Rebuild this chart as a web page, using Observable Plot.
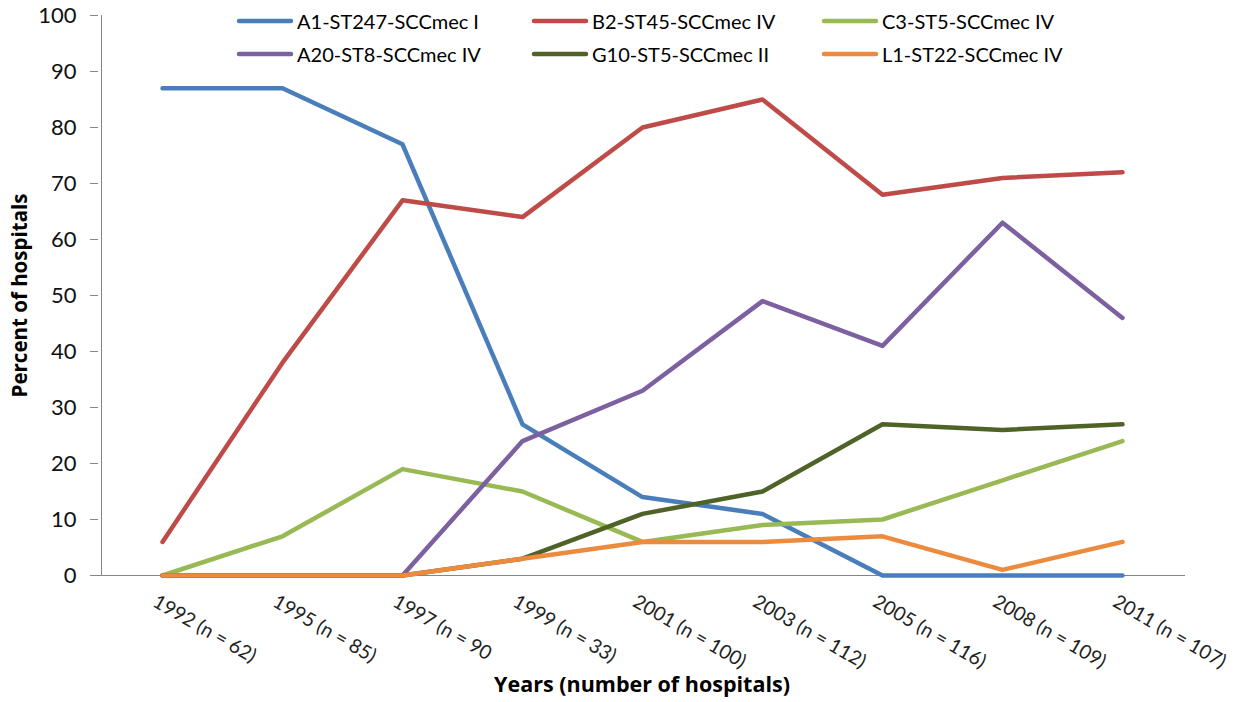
<!DOCTYPE html>
<html>
<head>
<meta charset="utf-8">
<script src="https://cdn.jsdelivr.net/npm/d3@7"></script>
<script src="https://cdn.jsdelivr.net/npm/@observablehq/plot@0.6"></script>
<style>
  html, body { margin: 0; padding: 0; background: #fff; }
  #wrap { position: relative; width: 1247px; height: 702px; font-family: Lato, "Open Sans", sans-serif; }
  #legend { position: absolute; left: 236px; top: 9px; display: grid; grid-template-columns: 295px 290px 300px; row-gap: 9px; font-size: 20px; color: #000; }
  #legend .item { display: flex; align-items: center; height: 24px; white-space: nowrap; }
  #legend svg { margin-right: 3px; }
</style>
</head>
<body>
<div id="wrap"><div id="legend"></div></div>
<script>
const categories = ["1992 (n = 62)", "1995 (n = 85)", "1997 (n = 90", "1999 (n = 33)", "2001 (n = 100)", "2003 (n = 112)", "2005 (n = 116)", "2008 (n = 109)", "2011 (n = 107)"];
const seriesNames = ["A1-ST247-SCCmec I", "B2-ST45-SCCmec IV", "C3-ST5-SCCmec IV", "A20-ST8-SCCmec IV", "G10-ST5-SCCmec II", "L1-ST22-SCCmec IV"];
const seriesColors = ["#4A7EBB", "#BE4B48", "#98B954", "#7D60A0", "#4F6228", "#EC8B3E"];
const A1  = [87, 87, 77, 27, 14, 11, 0, 0, 0];
const B2  = [6, 38, 67, 64, 80, 85, 68, 71, 72];
const C3  = [0, 7, 19, 15, 6, 9, 10, 17, 24];
const A20 = [0, 0, 0, 24, 33, 49, 41, 63, 46];
const G10 = [0, 0, 0, 3, 11, 15, 27, 26, 27];
const L1  = [0, 0, 0, 3, 6, 6, 7, 1, 6];
const yTicks = [0, 10, 20, 30, 40, 50, 60, 70, 80, 90, 100];

const seriesValues = [A1, B2, C3, A20, G10, L1];
const data = [];
seriesNames.forEach((name, i) => {
  seriesValues[i].forEach((v, j) => data.push({series: name, category: categories[j], value: v}));
});

const chart = Plot.plot({
  width: 1247,
  height: 702,
  marginLeft: 98,
  marginRight: 62,
  marginTop: 15,
  marginBottom: 127,
  style: {fontFamily: "Lato, 'Open Sans', sans-serif", background: "#fff", color: "#000"},
  x: {type: "point", domain: categories, padding: 0.5, axis: null},
  y: {domain: [0, 100], axis: null},
  color: {domain: seriesNames, range: seriesColors},
  marks: [
    Plot.axisY({ticks: yTicks, tickSize: 8, tickPadding: 14, fontSize: 22, stroke: "#868686", label: null, color: "#111"}),
    Plot.ruleX([0], {x: () => categories[0], frameAnchor: "left", stroke: "#868686", dx: -61}),
    Plot.ruleY([0], {stroke: "#868686"}),
    Plot.text(categories, {x: d => d, frameAnchor: "bottom", dy: 18, dx: -4, rotate: 30, textAnchor: "start", lineAnchor: "top", fontSize: 19.5, fill: "#222"}),
    Plot.text(["Percent of hospitals"], {frameAnchor: "left", dx: -78, rotate: -90, textAnchor: "middle", fontSize: 20.5, fontFamily: "'Open Sans', sans-serif", fontWeight: "bold", fill: "#000"}),
    Plot.text(["Years (number of hospitals)"], {frameAnchor: "bottom", dy: 116, textAnchor: "middle", fontSize: 21.5, fontFamily: "'Open Sans', sans-serif", fontWeight: "bold", fill: "#000"}),
    Plot.line(data, {x: "category", y: "value", z: "series", stroke: "series", strokeWidth: 4.5, strokeLinecap: "round", strokeLinejoin: "round"})
  ]
});
document.getElementById("wrap").appendChild(chart);

const legend = document.getElementById("legend");
seriesNames.forEach((name, i) => {
  const item = document.createElement("div");
  item.className = "item";
  item.innerHTML = `<svg width="58" height="10"><line x1="3" y1="5" x2="55" y2="5" stroke="${seriesColors[i]}" stroke-width="4.5" stroke-linecap="round"/></svg><span>${name}</span>`;
  legend.appendChild(item);
});
</script>
</body>
</html>
